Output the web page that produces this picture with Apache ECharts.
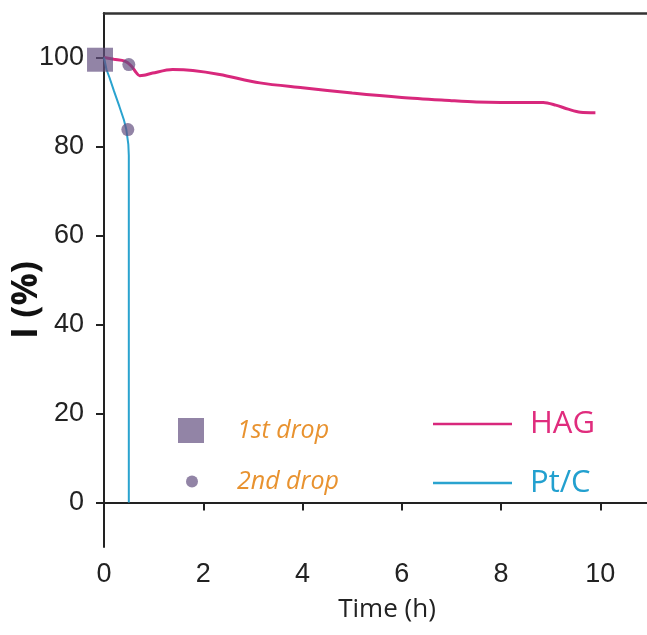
<!DOCTYPE html>
<html>
<head>
<meta charset="utf-8">
<script src="https://cdn.jsdelivr.net/npm/echarts@6/dist/echarts.min.js"></script>
<style>html,body{margin:0;padding:0;background:#fff}#c{width:647px;height:635px}</style>
</head>
<body>
<div id="c"></div>
<script>
var xTicks = [0, 2, 4, 6, 8, 10];
var yTicks = [0, 20, 40, 60, 80, 100];
var hagTime = [0, 0.2, 0.42, 0.55, 0.65, 0.72, 0.8, 0.98, 1.38, 1.79, 2.33, 3.14, 4, 5, 6, 7, 7.5, 8, 8.5, 8.85, 9.1, 9.35, 9.6, 9.9];
var hagValue = [100, 99.6, 99.2, 98.1, 96.6, 95.9, 96.0, 96.5, 97.3, 97.1, 96.2, 94.3, 93.2, 92.0, 91.0, 90.3, 90.0, 89.9, 89.9, 89.9, 89.3, 88.4, 87.7, 87.6];
var ptTime = [0, 0.05, 0.11, 0.2, 0.31, 0.4, 0.45, 0.49, 0.5, 0.5];
var ptValue = [100, 97.3, 95.5, 92.5, 89, 86, 83.8, 80.5, 78, 0];
var drop1Time = [-0.08];
var drop1Value = [99.5];
var drop2Time = [0.5, 0.48];
var drop2Value = [98.4, 83.8];

function zip(a, b) { return a.map(function (v, i) { return [v, b[i]]; }); }

var numFont = '"Liberation Sans",Arial,sans-serif';
var chart = echarts.init(document.getElementById('c'), null, {renderer: 'canvas'});
chart.setOption({
  animation: false,
  backgroundColor: '#fff',
  grid: {left: 104, right: -3, top: 13, bottom: 88, containLabel: false, outerBoundsMode: 'none'},
  xAxis: [{
    type: 'value', min: 0, max: 11, position: 'bottom',
    splitLine: {show: false},
    axisLine: {lineStyle: {color: '#222', width: 2}},
    axisTick: {customValues: xTicks, length: 8, lineStyle: {color: '#222', width: 2}},
    axisLabel: {customValues: xTicks, margin: 14, fontSize: 27, color: '#222', fontFamily: numFont},
    name: 'Time (h)', nameLocation: 'middle', nameGap: 50, nameMoveOverlap: false,
    nameTextStyle: {fontSize: 26, color: '#222', fontFamily: '"Open Sans",sans-serif', padding: [0, 0, 0, 20]}
  }, {
    type: 'value', min: 0, max: 11, position: 'top',
    splitLine: {show: false},
    axisLine: {lineStyle: {color: '#333', width: 2.5}},
    axisTick: {show: false}, axisLabel: {show: false}
  }],
  yAxis: [{
    type: 'value', min: -10, max: 110,
    splitLine: {show: false},
    axisLine: {show: true, lineStyle: {color: '#222', width: 2}},
    axisTick: {show: true, customValues: yTicks, length: 8, lineStyle: {color: '#222', width: 2}},
    axisLabel: {customValues: yTicks, margin: 20, fontSize: 27, color: '#222', fontFamily: numFont},
    name: 'I (%)', nameLocation: 'middle', nameGap: 59, nameRotate: 90, nameMoveOverlap: false,
    nameTextStyle: {fontSize: 36, fontWeight: 'bold', color: '#111', fontFamily: '"Open Sans",sans-serif', padding: [0, 40, 0, 0]}
  }],
  legend: [{
    data: ['1st drop'], left: 178, top: 418, padding: 0, orient: 'vertical',
    itemWidth: 26, itemHeight: 25, icon: 'rect',
    textStyle: {color: '#E8922F', fontSize: 25, fontStyle: 'italic', fontFamily: '"Open Sans",sans-serif', padding: [0, 0, 0, 28], lineHeight: 25}
  }, {
    data: ['2nd drop'], left: 186, top: 469, padding: 0, orient: 'vertical',
    itemWidth: 12, itemHeight: 12, icon: 'circle',
    textStyle: {color: '#E8922F', fontSize: 25, fontStyle: 'italic', fontFamily: '"Open Sans",sans-serif', padding: [0, 0, 0, 34], lineHeight: 25}
  }, {
    data: ['HAG'], left: 433, top: 407, padding: 0,
    itemWidth: 79, itemHeight: 2.5, icon: 'rect',
    textStyle: {color: '#E02C7D', fontSize: 31, fontFamily: '"Open Sans",sans-serif', padding: [0, 0, 0, 13], lineHeight: 34}
  }, {
    data: ['Pt/C'], left: 433, top: 466, padding: 0,
    itemWidth: 79, itemHeight: 2.5, icon: 'rect',
    textStyle: {color: '#22A0CF', fontSize: 31, fontFamily: '"Open Sans",sans-serif', padding: [0, 0, 0, 13], lineHeight: 34}
  }],
  series: [{
    name: 'HAG', type: 'line', data: zip(hagTime, hagValue), smooth: 0.3,
    showSymbol: false, symbol: 'none', color: '#D8287C',
    lineStyle: {color: '#D8287C', width: 3}, z: 2
  }, {
    name: 'Pt/C', type: 'line', data: zip(ptTime, ptValue), smooth: false,
    showSymbol: false, symbol: 'none', color: '#2AA3CF',
    lineStyle: {color: '#2AA3CF', width: 2}, z: 2
  }, {
    name: '1st drop', type: 'scatter', data: zip(drop1Time, drop1Value), clip: false,
    symbol: 'rect', symbolSize: [26, 24],
    itemStyle: {color: 'rgba(100,80,128,0.88)'}, z: 3
  }, {
    name: '2nd drop', type: 'scatter', data: zip(drop2Time, drop2Value), clip: false,
    symbol: 'circle', symbolSize: 13,
    itemStyle: {color: 'rgba(100,80,128,0.88)'}, z: 3
  }]
});
</script>
</body>
</html>
